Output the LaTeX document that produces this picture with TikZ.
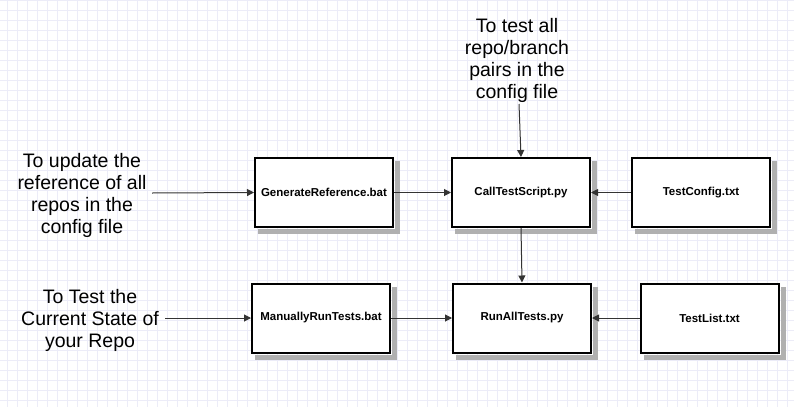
\documentclass[tikz,border=0pt]{standalone}
\usepackage{fontspec}
\setmainfont{Liberation Sans}
\usetikzlibrary{arrows.meta}
\definecolor{gridc}{HTML}{ECECF8}
\definecolor{linec}{HTML}{333333}
\definecolor{shadowc}{HTML}{B0B0B0}
\begin{document}
\begin{tikzpicture}[x=1pt,y=-1pt,
  box/.style={draw=black, line width=2pt, fill=white, minimum width=138pt, minimum height=69pt, inner sep=0pt,
    font=\fontsize{11.5}{13}\selectfont\bfseries},
  note/.style={align=center, font=\fontsize{19.5}{22}\selectfont, inner sep=0pt},
  conn/.style={draw=linec, line width=1pt, -{Triangle[length=7pt,width=7pt]}},
]
\useasboundingbox (0,0) rectangle (794,407);
\fill[white] (0,0) rectangle (794,407);
\foreach \i in {0,...,79} \draw[gridc, line width=1pt] (7.5+10*\i,0) -- (7.5+10*\i,407);
\foreach \j in {0,...,40} \draw[gridc, line width=1pt] (0,0.5+10*\j) -- (794,0.5+10*\j);

\node[box] (gen) at (324,192.5) {GenerateReference.bat};
\node[box] (call) at (521,192.5) {CallTestScript.py};
\node[box] (cfg) at (701,192.5) {TestConfig.txt};
\node[box] (man) at (321,318) {ManuallyRunTests.bat};
\node[box] (run) at (522,318) {RunAllTests.py};
\node[box] (list) at (709.5,318) {TestList.txt};

\foreach \b in {gen,call,cfg,man,run,list}{
  \fill[shadowc] ([shift={(1pt,-4pt)}]\b.north east) rectangle ([shift={(6pt,-6pt)}]\b.south east);
  \fill[shadowc] ([shift={(4pt,-1pt)}]\b.south west) rectangle ([shift={(6pt,-6pt)}]\b.south east);
}

\node[note] (t1) at (82,195) {To update the\\reference of all\\repos in the\\config file};
\node[note] (t2) at (517,60) {To test all\\repo/branch\\pairs in the\\config file};
\node[note] (t3) at (90,320) {To Test the\\Current State of\\your Repo};

\coordinate (t1e) at (152,193);
\coordinate (t2e) at (519,104);
\coordinate (t3e) at (165,318);

\draw[conn] (t1e) -- (gen.west);
\draw[conn] (gen.east) -- (call.west);
\draw[conn] (cfg.west) -- (call.east);
\draw[conn] (t2e) -- (call.north);
\draw[conn] (call.south) -- (run.north);
\draw[conn] (t3e) -- (man.west);
\draw[conn] (man.east) -- (run.west);
\draw[conn] (list.west) -- (run.east);
\end{tikzpicture}
\end{document}
